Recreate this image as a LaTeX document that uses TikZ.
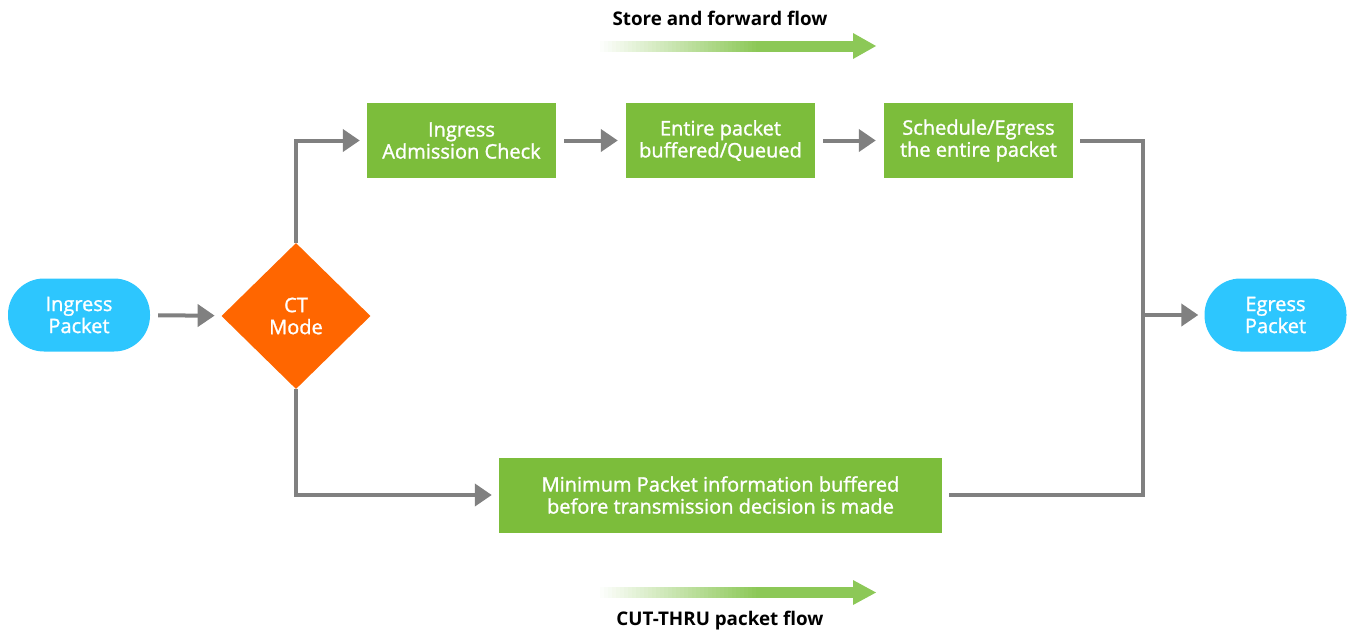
\documentclass[tikz,border=0pt]{standalone}
\usepackage{fontspec}
\setmainfont{Open Sans}
\newfontfamily\medfont{Open Sans}[FakeBold=1.3]
\usetikzlibrary{shapes.geometric,arrows.meta}
\definecolor{boxgreen}{HTML}{7CBD3B}
\definecolor{pillblue}{HTML}{2DC6FE}
\definecolor{ctorange}{HTML}{FF6600}
\definecolor{linegray}{HTML}{808080}
\definecolor{flowgreen}{HTML}{8CC857}
\tikzset{
  txt/.style={text=white,font=\medfont\fontsize{20}{22}\selectfont,align=center,inner sep=0pt},
  pill/.style={txt,fill=pillblue,rounded corners=36pt,minimum width=142pt,minimum height=73pt},
  gbox/.style={txt,fill=boxgreen,minimum height=75pt},
  ctd/.style={txt,diamond,fill=ctorange,minimum width=149pt,minimum height=146pt},
  conn/.style={draw=linegray,line width=4pt},
  arr/.style={conn,-{Triangle[length=17pt,width=22pt]}},
  title/.style={font=\fontsize{18.8}{22}\selectfont\bfseries,inner sep=0pt}
}
\begin{document}
\begin{tikzpicture}[x=1pt,y=-1pt]
\useasboundingbox (0,0) rectangle (1351,633);
% nodes
\node[pill] (ing) at (79,315) {Ingress\\Packet};
\node[ctd] (ct) at (296,316) {CT\\Mode};
\node[gbox,minimum width=189pt] (b1) at (461.5,140.5) {Ingress\\Admission Check};
\node[gbox,minimum width=189pt] (b2) at (720.5,140.5) {Entire packet\\buffered/Queued};
\node[gbox,minimum width=189pt] (b3) at (978.5,140.5) {Schedule/Egress\\the entire packet};
\node[gbox,minimum width=443pt] (b4) at (720.5,495) {Minimum Packet information buffered\\before transmission decision is made};
\node[pill] (eg) at (1275.5,315) {Egress\\Packet};
\coordinate (j) at (1143,315);
% connectors
\draw[arr,shorten <=8pt,shorten >=7pt] (ing) -- (ct);
\draw[arr,shorten >=7pt] (ct.north) |- (b1.west);
\draw[arr,shorten <=8pt,shorten >=8pt] (b1) -- (b2);
\draw[arr,shorten <=8pt,shorten >=8pt] (b2) -- (b3);
\draw[arr,shorten >=7pt] (ct.south) |- (b4.west);
\draw[conn,shorten <=7pt] (b3.east) -| (j);
\draw[conn,shorten <=7pt] (b4.east) -| (j);
\draw[arr,shorten >=6pt] (j) -- (eg);
% flow labels
\node[title] (t1) at (720,18) {Store and forward flow};
\node[title] (t2) at (720,621) {CUT-THRU packet flow};
% gradient arrows
\foreach \y in {40.5,587}{
  \foreach \i in {0,...,39}{
    \pgfmathsetmacro{\pct}{2.5*(\i+1)}
    \fill[flowgreen!\pct!white] ({600+4*\i},\y) rectangle ({604.6+4*\i},\y+11);
  }
  \fill[flowgreen] (759.5,\y) rectangle (855,\y+11);
}
\fill[flowgreen] (853,33) -- (876,46) -- (853,59) -- cycle;
\fill[flowgreen] (853,580) -- (876,592.5) -- (853,605) -- cycle;
\end{tikzpicture}
\end{document}
